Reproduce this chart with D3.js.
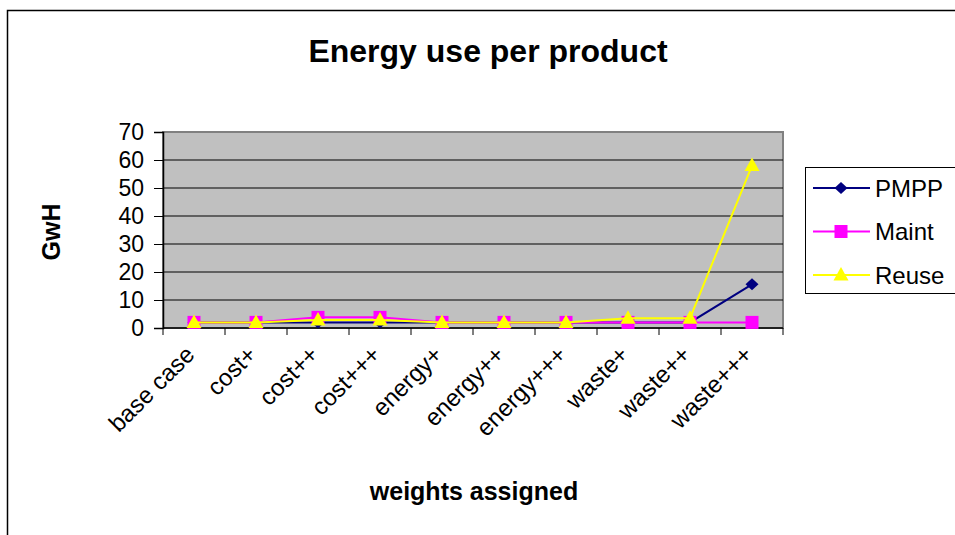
<!DOCTYPE html>
<html>
<head>
<meta charset="utf-8">
<script src="https://cdn.jsdelivr.net/npm/d3@7"></script>
<style>
  html, body { margin: 0; padding: 0; background: #fff; }
  svg { display: block; font-family: Arial, "Liberation Sans", sans-serif; }
</style>
</head>
<body>
<svg id="chart" width="955" height="535"></svg>
<script>
const categories = ["base case", "cost+", "cost++", "cost+++", "energy+", "energy++", "energy+++", "waste+", "waste++", "waste+++"];
const pmpp  = [2, 2, 2, 2, 2, 2, 2, 2, 2, 15.6];
const maint = [2, 2, 3.8, 3.8, 2, 2, 2, 2, 2, 2];
const reuse = [2, 2, 2.9, 2.9, 2, 2, 2, 3.5, 3.5, 58];
const yTicks = [0, 10, 20, 30, 40, 50, 60, 70];
const seriesNames = ["PMPP", "Maint", "Reuse"];
const seriesColors = ["#000080", "#ff00ff", "#ffff00"];

const svg = d3.select("#chart");
const M = { left: 163, right: 783, top: 132, bottom: 328 };

// outer frame
svg.append("rect").attr("x", 7.5).attr("y", 10.5).attr("width", 1000).attr("height", 600)
  .attr("fill", "#fff").attr("stroke", "#000").attr("stroke-width", 1.5);

const x = d3.scaleBand().domain(categories).range([M.left, M.right]);
const y = d3.scaleLinear().domain([0, 70]).range([M.bottom, M.top]);

// plot background
svg.append("rect").attr("x", M.left).attr("y", M.top)
  .attr("width", M.right - M.left).attr("height", M.bottom - M.top)
  .attr("fill", "#c0c0c0").attr("stroke", "#808080").attr("stroke-width", 2);

// gridlines
svg.append("g").selectAll("line").data(yTicks.filter(d => d > 0 && d < 70)).join("line")
  .attr("x1", M.left).attr("x2", M.right)
  .attr("y1", d => y(d)).attr("y2", d => y(d))
  .attr("stroke", "#000").attr("stroke-width", 1);

// y axis
const yAxis = svg.append("g").attr("transform", `translate(${M.left},0)`)
  .call(d3.axisLeft(y).tickValues(yTicks).tickSize(9).tickPadding(10).tickFormat(d3.format("d")));
yAxis.select(".domain").attr("stroke", "#000").attr("stroke-width", 1.5);
yAxis.selectAll(".tick line").attr("stroke", "#000");
yAxis.selectAll("text").attr("font-size", 23).attr("fill", "#000")
  .attr("font-family", "Arial, 'Liberation Sans', sans-serif");

// x axis
const boundaries = categories.map(c => x(c)).concat([M.right]);
svg.append("line").attr("x1", M.left).attr("x2", M.right).attr("y1", M.bottom).attr("y2", M.bottom)
  .attr("stroke", "#000").attr("stroke-width", 1.5);
svg.append("g").selectAll("line").data(boundaries).join("line")
  .attr("x1", d => d).attr("x2", d => d).attr("y1", M.bottom).attr("y2", M.bottom + 7)
  .attr("stroke", "#000").attr("stroke-width", 1);

svg.append("g").selectAll("text").data(categories).join("text")
  .attr("transform", d => `translate(${x(d) + x.bandwidth() / 2 + 2},${M.bottom + 28}) rotate(-45)`)
  .attr("text-anchor", "end")
  .attr("font-size", 24).attr("fill", "#000").text(d => d);

// series
const cx = c => x(c) + x.bandwidth() / 2;
const allSeries = [pmpp, maint, reuse];
const line = d3.line().x((d, i) => cx(categories[i])).y(d => y(d));

function marker(g, type, color) {
  if (type === 0) {
    g.append("path").attr("d", "M0,-6L6.5,0L0,6L-6.5,0Z").attr("fill", color);
  } else if (type === 1) {
    g.append("rect").attr("x", -6.5).attr("y", -6.5).attr("width", 13).attr("height", 13)
      .attr("fill", color);
  } else {
    g.append("path").attr("d", "M0,-8L7.5,5.5L-7.5,5.5Z").attr("fill", color);
  }
}

allSeries.forEach((vals, si) => {
  svg.append("path").datum(vals).attr("d", line)
    .attr("fill", "none").attr("stroke", seriesColors[si]).attr("stroke-width", 2);
  vals.forEach((v, i) => {
    const g = svg.append("g").attr("transform", `translate(${cx(categories[i])},${y(v)})`);
    marker(g, si, seriesColors[si]);
  });
});

// legend
const lg = svg.append("g");
lg.append("rect").attr("x", 805.5).attr("y", 167.5).attr("width", 170).attr("height", 126)
  .attr("fill", "#fff").attr("stroke", "#000").attr("stroke-width", 1);
seriesNames.forEach((n, i) => {
  const ly = 188 + i * 43.5;
  lg.append("line").attr("x1", 813).attr("x2", 870).attr("y1", ly).attr("y2", ly)
    .attr("stroke", seriesColors[i]).attr("stroke-width", 2);
  const g = lg.append("g").attr("transform", `translate(841,${ly})`);
  marker(g, i, seriesColors[i]);
  lg.append("text").attr("x", 875).attr("y", ly).attr("dy", "0.36em")
    .attr("font-size", 24).attr("fill", "#000").text(n);
});

// titles
svg.append("text").attr("x", 488).attr("y", 62).attr("text-anchor", "middle")
  .attr("font-size", 32).attr("font-weight", "bold").text("Energy use per product");
svg.append("text").attr("transform", "translate(60,232) rotate(-90)").attr("text-anchor", "middle")
  .attr("font-size", 25).attr("font-weight", "bold").text("GwH");
svg.append("text").attr("x", 474).attr("y", 500).attr("text-anchor", "middle")
  .attr("font-size", 25).attr("font-weight", "bold").text("weights assigned");
</script>
</body>
</html>
